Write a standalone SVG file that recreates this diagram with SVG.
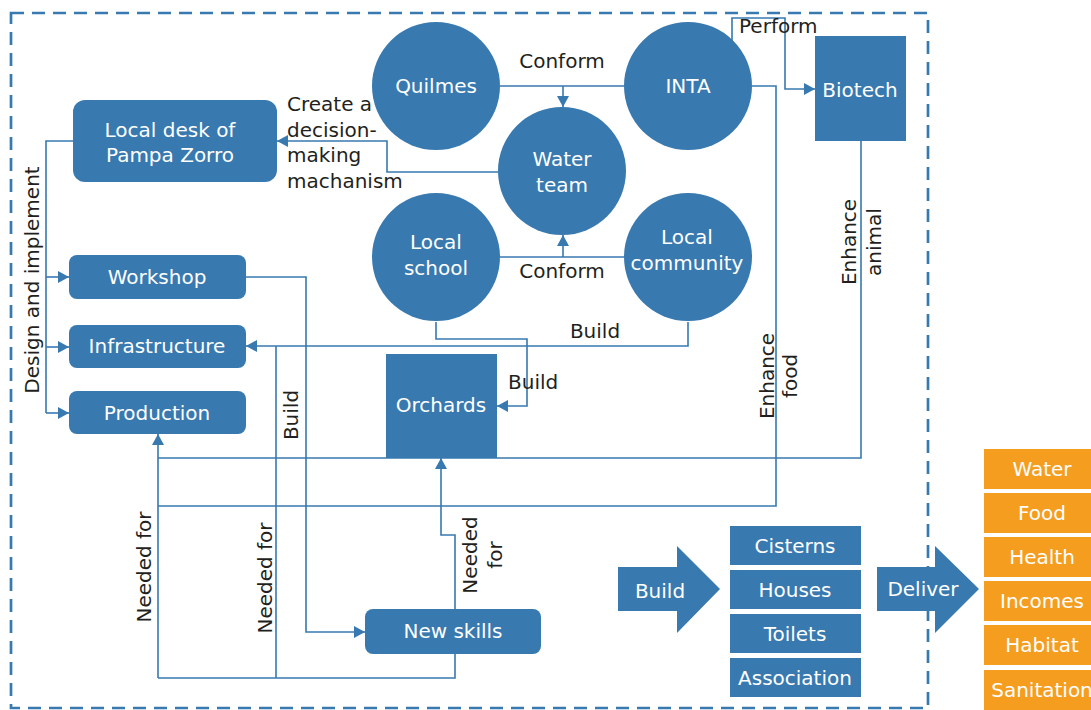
<svg xmlns="http://www.w3.org/2000/svg" width="1091" height="710" viewBox="0 0 1091 710">
<style>
.n{fill:#3879B0}
.o{fill:#F59D1E}
.w{fill:#fff;font-family:"DejaVu Sans",sans-serif;font-size:20px;text-anchor:middle}
.t{fill:#231F20;font-family:"DejaVu Sans",sans-serif;font-size:20px}
.m{text-anchor:middle}
.c{fill:none;stroke:#3879B0;stroke-width:1.6}
</style>
<defs>
<marker id="ah" markerUnits="userSpaceOnUse" markerWidth="12" markerHeight="12" refX="11" refY="6" orient="auto">
<path d="M0,0 L11,6 L0,12 z" fill="#3879B0"/>
</marker>
</defs>
<rect x="11" y="13" width="917" height="695" fill="none" stroke="#3879B0" stroke-width="2.7" stroke-dasharray="13 8"/>
<g id="connectors">
<path class="c" d="M73,141 H46 V413"/>
<path class="c" d="M46,277 H69" marker-end="url(#ah)"/>
<path class="c" d="M46,347 H69" marker-end="url(#ah)"/>
<path class="c" d="M46,413 H69" marker-end="url(#ah)"/>
<path class="c" d="M498,172 H387 V141 H277" marker-end="url(#ah)"/>
<path class="c" d="M500,86 H624"/>
<path class="c" d="M563,86 V107" marker-end="url(#ah)"/>
<path class="c" d="M500,257 H624"/>
<path class="c" d="M563,257 V235" marker-end="url(#ah)"/>
<path class="c" d="M732,41 V18 H785 V89 H815" marker-end="url(#ah)"/>
<path class="c" d="M752,86 H776 V506 H158"/>
<path class="c" d="M861,141 V458 H158"/>
<path class="c" d="M158,678 V434" marker-end="url(#ah)"/>
<path class="c" d="M688,322 V346 H246" marker-end="url(#ah)"/>
<path class="c" d="M436,322 V339 H527 V406 H497" marker-end="url(#ah)"/>
<path class="c" d="M246,277 H306 V632 H365" marker-end="url(#ah)"/>
<path class="c" d="M276,678 V346"/>
<path class="c" d="M455,654 V678 H158"/>
<path class="c" d="M455,609 V535 H441 V458" marker-end="url(#ah)"/>
</g>
<g id="labels">
<text class="t m" x="562" y="68">Conform</text>
<text class="t m" x="562" y="278">Conform</text>
<text class="t" x="739" y="33">Perform</text>
<text class="t" x="287" y="111">Create a</text>
<text class="t" x="287" y="137">decision-</text>
<text class="t" x="287" y="162">making</text>
<text class="t" x="287" y="188">machanism</text>
<text class="t m" x="595" y="338">Build</text>
<text class="t" x="508" y="389">Build</text>
<text class="t m" transform="translate(39,280) rotate(-90)">Design and implement</text>
<text class="t m" transform="translate(298,415) rotate(-90)">Build</text>
<text class="t m" transform="translate(151,567) rotate(-90)">Needed for</text>
<text class="t m" transform="translate(272,578) rotate(-90)">Needed for</text>
<text class="t m" transform="translate(477,555) rotate(-90)">Needed</text>
<text class="t m" transform="translate(502,555) rotate(-90)">for</text>
<text class="t m" transform="translate(774,376) rotate(-90)">Enhance</text>
<text class="t m" transform="translate(797,376) rotate(-90)">food</text>
<text class="t m" transform="translate(856,242) rotate(-90)">Enhance</text>
<text class="t m" transform="translate(881,242) rotate(-90)">animal</text>
</g>
<g id="quilmes"><circle class="n" cx="436" cy="86" r="64"/><text class="w" x="436" y="93">Quilmes</text></g>
<g id="inta"><circle class="n" cx="688" cy="86" r="64"/><text class="w" x="688" y="93">INTA</text></g>
<g id="water-team"><circle class="n" cx="562" cy="171" r="64"/><text class="w" x="562" y="166">Water</text><text class="w" x="562" y="192">team</text></g>
<g id="local-school"><circle class="n" cx="436" cy="257" r="64"/><text class="w" x="436" y="249">Local</text><text class="w" x="436" y="275">school</text></g>
<g id="local-community"><circle class="n" cx="688" cy="257" r="64"/><text class="w" x="687" y="244">Local</text><text class="w" x="687" y="270">community</text></g>
<g id="biotech"><rect class="n" x="815" y="36" width="91" height="105"/><text class="w" x="860" y="97">Biotech</text></g>
<g id="local-desk"><rect class="n" x="73" y="100" width="204" height="82" rx="12"/><text class="w" x="170" y="137">Local desk of</text><text class="w" x="170" y="162">Pampa Zorro</text></g>
<g id="workshop"><rect class="n" x="69" y="255" width="177" height="44" rx="8"/><text class="w" x="157" y="284">Workshop</text></g>
<g id="infrastructure"><rect class="n" x="69" y="325" width="177" height="43" rx="8"/><text class="w" x="157" y="353">Infrastructure</text></g>
<g id="production"><rect class="n" x="69" y="391" width="177" height="43" rx="8"/><text class="w" x="157" y="420">Production</text></g>
<g id="orchards"><rect class="n" x="386" y="354" width="111" height="104"/><text class="w" x="441" y="412">Orchards</text></g>
<g id="new-skills"><rect class="n" x="365" y="609" width="176" height="45" rx="8"/><text class="w" x="453" y="638">New skills</text></g>
<g id="build-arrow"><polygon class="n" points="618,567 677,567 677,546 720,589 677,633 677,611 618,611"/><text class="w" x="660" y="598">Build</text></g>
<g id="deliver-arrow"><polygon class="n" points="877,567 935,567 935,546 979,589 935,633 935,611 877,611"/><text class="w" x="923" y="596">Deliver</text></g>
<g id="cisterns"><rect class="n" x="730" y="526" width="131" height="39"/><text class="w" x="795" y="553">Cisterns</text></g>
<g id="houses"><rect class="n" x="730" y="570" width="131" height="39"/><text class="w" x="795" y="597">Houses</text></g>
<g id="toilets"><rect class="n" x="730" y="614" width="131" height="39"/><text class="w" x="795" y="641">Toilets</text></g>
<g id="association"><rect class="n" x="730" y="658" width="131" height="39"/><text class="w" x="795" y="685">Association</text></g>
<g id="water"><rect class="o" x="984" y="449" width="116" height="40"/><text class="w" x="1042" y="476">Water</text></g>
<g id="food"><rect class="o" x="984" y="493" width="116" height="40"/><text class="w" x="1042" y="520">Food</text></g>
<g id="health"><rect class="o" x="984" y="537" width="116" height="40"/><text class="w" x="1042" y="564">Health</text></g>
<g id="incomes"><rect class="o" x="984" y="581" width="116" height="40"/><text class="w" x="1042" y="608">Incomes</text></g>
<g id="habitat"><rect class="o" x="984" y="625" width="116" height="40"/><text class="w" x="1042" y="652">Habitat</text></g>
<g id="sanitation"><rect class="o" x="984" y="670" width="116" height="42"/><text class="w" x="1042" y="697">Sanitation</text></g>
</svg>
